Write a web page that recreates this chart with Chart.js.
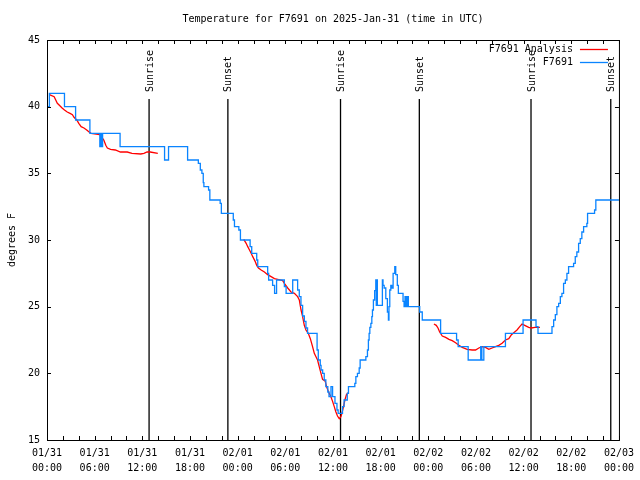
<!DOCTYPE html>
<html>
<head>
<meta charset="utf-8">
<script src="https://cdn.jsdelivr.net/npm/chart.js@4.4.1/dist/chart.umd.min.js"></script>
<style>
  html, body { margin: 0; padding: 0; background: #fff; }
  #wrap { width: 640px; height: 480px; }
</style>
</head>
<body>
<div id="wrap"><canvas id="c" width="640" height="480"></canvas></div>
<script>
const FONT = '"DejaVu Sans Mono", "Liberation Mono", monospace'
const BLUE = '#0a84ff'
const RED  = '#ff0000'

// x values are hours since 2025-01-31 00:00 UTC
const xTickDates = ['01/31', '01/31', '01/31', '01/31', '02/01', '02/01', '02/01', '02/01', '02/02', '02/02', '02/02', '02/02', '02/03']
const xTickTimes = ['00:00', '06:00', '12:00', '18:00', '00:00', '06:00', '12:00', '18:00', '00:00', '06:00', '12:00', '18:00', '00:00']

const sunLabels = ['Sunrise', 'Sunset', 'Sunrise', 'Sunset', 'Sunrise', 'Sunset']
const sunHours  = [12.85, 22.77, 36.95, 46.87, 60.93, 70.97]

// station observations, [hour, degF] at each change (drawn as steps)
const stationObs = [
  [0, 40], [0.3, 41], [2.2, 40], [3.6, 39], [5.4, 38], [6.65, 37], [6.75, 38], [6.9, 37], [7.0, 38],
  [9.2, 37], [14.8, 36], [15.3, 37], [17.7, 36], [19.05, 35.75], [19.3, 35.25], [19.5, 35],
  [19.67, 34.3], [19.75, 34], [20.34, 33.75], [20.5, 33], [21.8, 32.75], [21.95, 32], [23.45, 31.5],
  [23.6, 31], [24.15, 30.75], [24.35, 30], [25.57, 29.5], [25.77, 29], [26.4, 28.5], [26.53, 28],
  [27.78, 27.5], [27.9, 27], [28.4, 26.6], [28.65, 26], [28.9, 27], [29.88, 26.5], [30.1, 26],
  [30.93, 27], [31.55, 26.25], [31.76, 25.75], [31.97, 25.1], [32.18, 24.3], [32.4, 23.9],
  [32.6, 23.4], [32.8, 23], [34.0, 21.75], [34.15, 21], [34.4, 20.6], [34.5, 20.25], [34.7, 20],
  [34.9, 19.5], [35.1, 19], [35.35, 18.6], [35.5, 18.25], [35.75, 19], [35.95, 18.25], [36.25, 17.75],
  [36.5, 17.25], [36.65, 17], [37.2, 17.5], [37.4, 18], [37.8, 18.5], [37.95, 19], [38.75, 19.25],
  [38.88, 19.75], [39.08, 20], [39.3, 20.4], [39.42, 21], [40.14, 21.25], [40.34, 21.75], [40.46, 22.5],
  [40.55, 23], [40.64, 23.45], [40.77, 23.75], [40.89, 24.25], [40.97, 24.75], [41.09, 25.5],
  [41.25, 26.2], [41.39, 27], [41.45, 25.1], [41.52, 27], [41.59, 25.1], [42.22, 27], [42.3, 26.6],
  [42.44, 26.4], [42.65, 25.6], [42.85, 24.6], [42.98, 24], [43.05, 25], [43.15, 26.25], [43.28, 26.6],
  [43.4, 26.4], [43.57, 27.5], [43.78, 28], [43.9, 27.4], [44.1, 26.6], [44.23, 26], [44.82, 25.4],
  [44.95, 25], [45.07, 25.75], [45.2, 25], [45.35, 25.75], [45.49, 25], [46.92, 24.6], [47.24, 24],
  [49.55, 23], [51.56, 22.5], [51.76, 22], [53.02, 21], [54.6, 22], [54.74, 21], [54.99, 22],
  [57.71, 23], [59.93, 24], [61.56, 23.5], [61.81, 23], [63.57, 23.5], [63.78, 24], [63.99, 24.4],
  [64.19, 25], [64.41, 25.25], [64.62, 25.75], [64.82, 26], [65.03, 26.75], [65.25, 27], [65.45, 27.5],
  [65.66, 28], [66.29, 28.25], [66.5, 28.75], [66.7, 29.1], [66.92, 29.75], [67.13, 30.1], [67.33, 30.6],
  [67.55, 31], [67.96, 31.25], [68.05, 32], [68.93, 32.25], [69.09, 33], [72, 33]
]

// analysis, three separate runs
const analysisDay1 = [
  [0.3, 40.9], [0.9, 40.75], [1.1, 40.5], [1.3, 40.25], [1.65, 40.05], [1.9, 39.9], [2.2, 39.75],
  [2.55, 39.6], [2.9, 39.5], [3.2, 39.4], [3.4, 39.2], [3.75, 39], [4.0, 38.75], [4.3, 38.5],
  [4.65, 38.4], [5.0, 38.25], [5.3, 38.1], [5.55, 38], [6.65, 37.9], [7.15, 37.5], [7.4, 37.1],
  [7.6, 36.9], [8.0, 36.8], [8.6, 36.75], [9.25, 36.6], [10.1, 36.6], [10.7, 36.5], [11.8, 36.45],
  [12.2, 36.5], [12.6, 36.6], [13.0, 36.6], [13.95, 36.5]
]
const analysisDay2 = [
  [24.77, 30.05], [25.07, 29.75], [25.27, 29.5], [25.49, 29.25], [25.7, 29], [25.9, 28.75], [26.2, 28.4],
  [26.4, 28.1], [26.62, 27.9], [26.96, 27.75], [27.37, 27.6], [27.78, 27.4], [28.21, 27.25], [28.63, 27.1],
  [29.04, 27.05], [29.67, 26.95], [29.88, 26.75], [30.3, 26.4], [30.72, 26.1], [31.14, 26], [31.55, 25.75],
  [31.76, 25.5], [31.98, 24.75], [32.18, 24.25], [32.39, 23.6], [32.6, 23.25], [32.89, 23], [33.15, 22.6],
  [33.43, 22], [33.65, 21.5], [33.86, 21.25], [34.06, 21], [34.27, 20.5], [34.49, 20], [34.69, 19.55],
  [35.03, 19.4], [35.19, 19], [35.44, 18.6], [35.74, 18.25], [35.95, 17.9], [36.16, 17.5], [36.37, 17.1],
  [36.57, 16.8], [36.79, 16.6], [37.0, 16.75], [37.12, 17], [37.33, 17.5], [37.5, 18], [37.7, 18.4],
  [37.92, 18.55]
]
const analysisDay3 = [
  [48.71, 23.7], [49.0, 23.6], [49.22, 23.4], [49.43, 23.1], [49.76, 22.8], [50.18, 22.7], [50.6, 22.55],
  [51.01, 22.45], [51.44, 22.3], [51.85, 22.1], [52.27, 21.95], [52.89, 21.8], [53.52, 21.75], [53.95, 21.75],
  [54.36, 21.9], [54.78, 22], [55.2, 21.95], [55.62, 21.8], [56.03, 21.9], [56.46, 22], [56.87, 22.1],
  [57.29, 22.25], [57.71, 22.5], [58.13, 22.6], [58.47, 22.9], [58.76, 23.05], [59.17, 23.25], [59.51, 23.5],
  [59.8, 23.7], [60.14, 23.6], [60.64, 23.45], [60.99, 23.4], [61.42, 23.45], [62.05, 23.45]
]

const pts = arr => arr.map(p => ({ x: p[0], y: p[1] }))
const analysisData = [
  ...pts(analysisDay1), { x: 19, y: null },
  ...pts(analysisDay2), { x: 43, y: null },
  ...pts(analysisDay3)
]

const SUN_TOP = 40.575   // top of sunrise/sunset markers, degF

const sunSets = sunHours.map(h => ({
  data: [{ x: h, y: 15 }, { x: h, y: SUN_TOP }],
  borderColor: '#000', borderWidth: 1.3, pointRadius: 0, order: 3,
}))

// gnuplot style frame: border, inward ticks on all sides, markers text, title, key
const frame = {
  id: 'frame',
  afterDraw(chart) {
    const { ctx, chartArea: a, scales: { x, y } } = chart
    ctx.save()
    ctx.strokeStyle = '#000'
    ctx.lineWidth = 1
    ctx.strokeRect(a.left + 0.5, a.top + 0.5, a.right - a.left, a.bottom - a.top)

    ctx.beginPath()
    for (let h = 0; h <= 72; h += 2) {
      const px = Math.round(x.getPixelForValue(h)) + 0.5
      ctx.moveTo(px, a.bottom); ctx.lineTo(px, a.bottom - 4)
      ctx.moveTo(px, a.top);    ctx.lineTo(px, a.top + 4)
    }
    for (let v = 15; v <= 45; v += 5) {
      const py = Math.round(y.getPixelForValue(v)) + 0.5
      ctx.moveTo(a.left, py);  ctx.lineTo(a.left + 4, py)
      ctx.moveTo(a.right, py); ctx.lineTo(a.right - 4, py)
    }
    ctx.stroke()

    ctx.fillStyle = '#000'
    ctx.font = '10px ' + FONT
    ctx.textBaseline = 'middle'

    // sunrise / sunset captions, rotated
    const top = y.getPixelForValue(SUN_TOP)
    sunHours.forEach((h, i) => {
      ctx.save()
      ctx.translate(x.getPixelForValue(h) + 1, top - 7)
      ctx.rotate(-Math.PI / 2)
      ctx.textAlign = 'left'
      ctx.fillText(sunLabels[i], 0, 0)
      ctx.restore()
    })

    // title
    ctx.textAlign = 'center'
    ctx.fillText('Temperature for F7691 on 2025-Jan-31 (time in UTC)', (a.left + a.right) / 2, 19)

    // key
    const keys = [['F7691 Analysis', RED], ['F7691', BLUE]]
    keys.forEach(([name, col], i) => {
      const ky = 49 + i * 13
      ctx.textAlign = 'right'
      ctx.fillStyle = '#000'
      ctx.fillText(name, a.right - 46, ky)
      ctx.strokeStyle = col
      ctx.lineWidth = 1.3
      ctx.beginPath()
      ctx.moveTo(a.right - 39, ky + 0.5); ctx.lineTo(a.right - 11, ky + 0.5)
      ctx.stroke()
    })
    ctx.restore()
  }
}

new Chart(document.getElementById('c'), {
  type: 'line',
  data: {
    datasets: [
      { label: 'F7691', data: pts(stationObs), borderColor: BLUE, borderWidth: 1.3, stepped: true, pointRadius: 0, order: 1 },
      { label: 'F7691 Analysis', data: analysisData, borderColor: RED, borderWidth: 1.3, pointRadius: 0, spanGaps: false, order: 2 },
      ...sunSets,
    ],
  },
  options: {
    responsive: false,
    animation: false,
    devicePixelRatio: 1,
    layout: { padding: { top: 40, right: 20, left: 0, bottom: 0 } },
    plugins: { legend: { display: false }, tooltip: { enabled: false }, title: { display: false } },
    scales: {
      x: {
        type: 'linear', min: 0, max: 72,
        grid: { display: false, drawTicks: false },
        border: { display: false },
        ticks: {
          stepSize: 6, autoSkip: false, maxRotation: 0, padding: 6, color: '#000',
          font: { family: FONT, size: 10, lineHeight: 1.5 },
          callback: v => { const i = Math.round(v / 6); return [xTickDates[i], xTickTimes[i]] },
        },
        afterFit: s => { s.height = 40 },
      },
      y: {
        min: 15, max: 45,
        grid: { display: false, drawTicks: false },
        border: { display: false },
        ticks: { stepSize: 5, padding: 7, color: '#000', font: { family: FONT, size: 10 } },
        title: { display: true, text: 'degrees F', color: '#000', font: { family: FONT, size: 10 }, padding: { top: 6, bottom: 0 } },
        afterFit: s => { s.width = 47 },
      },
    },
  },
  plugins: [frame],
})
</script>
</body>
</html>
